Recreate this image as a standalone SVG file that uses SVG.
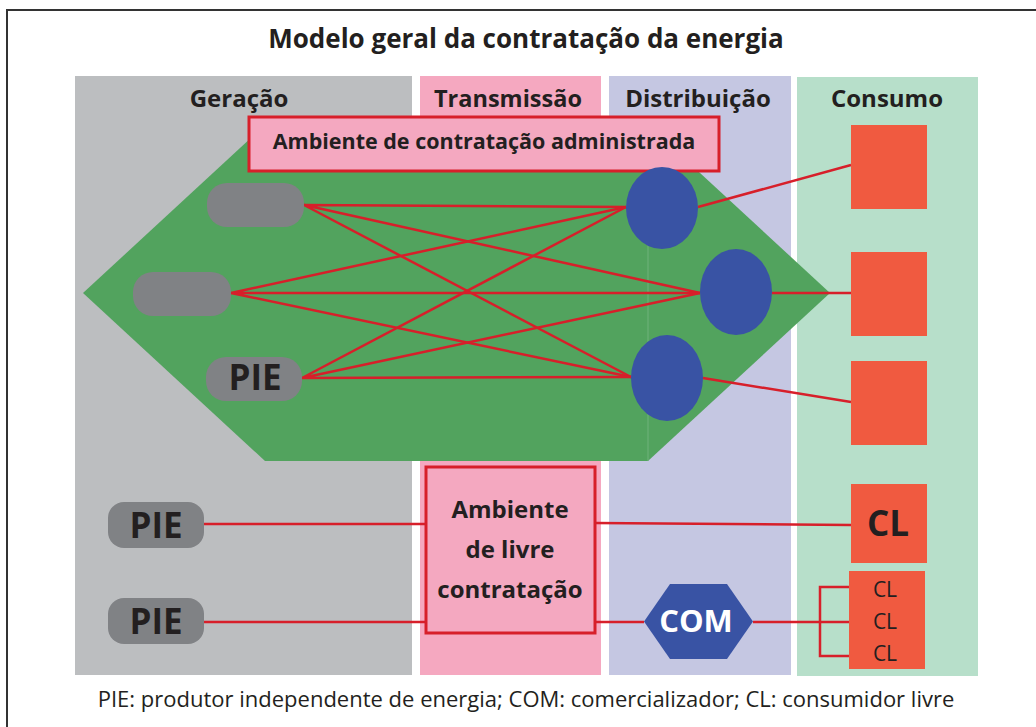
<svg xmlns="http://www.w3.org/2000/svg" width="1036" height="727" viewBox="0 0 1036 727">
<style>
.t{font-family:"Open Sans","Noto Sans","Liberation Sans",sans-serif;fill:#231f20}
.b{font-weight:bold}
.ln{stroke:#d71f2a;stroke-width:2.5;fill:none}
.pill{fill:#808285}
.ell{fill:#3953a4}
.cons{fill:#f05a40}
.box{fill:#f4a8c0;stroke:#d71f2a;stroke-width:3}
</style>
<rect x="0" y="0" width="1036" height="727" fill="#fff"/>
<rect x="7" y="10" width="1040" height="730" fill="none" stroke="#333" stroke-width="2"/>
<text class="t b" x="526" y="48" font-size="26" text-anchor="middle">Modelo geral da contratação da energia</text>
<g id="columns">
<rect x="75" y="76" width="337" height="599" fill="#bcbec0"/>
<rect x="420" y="76" width="181" height="599" fill="#f5a8c0"/>
<rect x="609" y="76" width="182" height="599" fill="#c5c7e2"/>
<rect x="797" y="77" width="181" height="599" fill="#b7dfca"/>
<text class="t b" x="239" y="107" font-size="24" text-anchor="middle">Geração</text>
<text class="t b" x="508" y="107" font-size="23.5" text-anchor="middle">Transmissão</text>
<text class="t b" x="698" y="107" font-size="24" text-anchor="middle">Distribuição</text>
<text class="t b" x="887" y="107" font-size="24" text-anchor="middle">Consumo</text>
</g>
<g id="regulated-area">
<polygon points="83,293 265,125 648,125 830,293 648,461 265,461" fill="#52a35e"/>
<line x1="648" y1="130" x2="648" y2="461" stroke="#6fb27a" stroke-width="1"/>
</g>
<g id="connectors">
<path class="ln" d="M304,205 L626,207 M304,205 L700,293 M304,205 L631,377"/>
<path class="ln" d="M231,293 L626,207 M231,293 L700,293 M231,293 L631,377"/>
<path class="ln" d="M302,378 L626,207 M302,378 L700,293 M302,378 L631,377"/>
<path class="ln" d="M698,207 L851,165 M772,293 L851,293 M703,378 L851,402"/>
<path class="ln" d="M204,524 L426,524 M204,622 L426,622 M595,523 L851,525 M595,622 L644,622 M753,622 L849,622 M849,587 L820,587 L820,656 L849,656"/>
</g>
<g id="acr-box">
<rect class="box" x="249" y="117" width="470" height="54"/>
<text class="t b" x="484" y="149" font-size="21.5" text-anchor="middle">Ambiente de contratação administrada</text>
</g>
<g id="gen1"><rect class="pill" x="207" y="183" width="97" height="44" rx="20"/></g>
<g id="gen2"><rect class="pill" x="133" y="272" width="98" height="44" rx="20"/></g>
<g id="gen3"><rect class="pill" x="206" y="357" width="96" height="44" rx="20"/><text class="t b" x="255" y="390" font-size="35" text-anchor="middle">PIE</text></g>
<g id="dist1"><ellipse class="ell" cx="662" cy="208" rx="36" ry="41"/></g>
<g id="dist2"><ellipse class="ell" cx="736" cy="292" rx="36" ry="43"/></g>
<g id="dist3"><ellipse class="ell" cx="667" cy="378" rx="36" ry="43"/></g>
<g id="cons1"><rect class="cons" x="851" y="125" width="76" height="84"/></g>
<g id="cons2"><rect class="cons" x="851" y="252" width="76" height="84"/></g>
<g id="cons3"><rect class="cons" x="851" y="361" width="76" height="84"/></g>
<g id="acl-box">
<rect class="box" x="426" y="467" width="169" height="166"/>
<text class="t b" x="510" y="518" font-size="24" text-anchor="middle">Ambiente</text>
<text class="t b" x="510" y="558" font-size="24" text-anchor="middle">de livre</text>
<text class="t b" x="510" y="598" font-size="24" text-anchor="middle">contratação</text>
</g>
<g id="pie1"><rect class="pill" x="108" y="502" width="96" height="46" rx="16"/><text class="t b" x="156" y="538" font-size="35" text-anchor="middle">PIE</text></g>
<g id="pie2"><rect class="pill" x="108" y="598" width="96" height="46" rx="16"/><text class="t b" x="156" y="634" font-size="35" text-anchor="middle">PIE</text></g>
<g id="cl-big"><rect class="cons" x="851" y="484" width="76" height="79"/><text class="t b" x="888" y="536" font-size="35" text-anchor="middle">CL</text></g>
<g id="cl-group"><rect class="cons" x="849" y="571" width="76" height="98"/>
<text class="t" x="885" y="597" font-size="21" text-anchor="middle">CL</text>
<text class="t" x="885" y="629" font-size="21" text-anchor="middle">CL</text>
<text class="t" x="885" y="661" font-size="21" text-anchor="middle">CL</text></g>
<g id="com"><polygon points="644,621.5 670,584 727,584 753,621.5 727,659 670,659" fill="#3953a4"/><text class="t b" x="696" y="632" font-size="31" text-anchor="middle" style="fill:#fff">COM</text></g>
<text class="t" x="526" y="707" font-size="22" text-anchor="middle">PIE: produtor independente de energia; COM: comercializador; CL: consumidor livre</text>
</svg>
